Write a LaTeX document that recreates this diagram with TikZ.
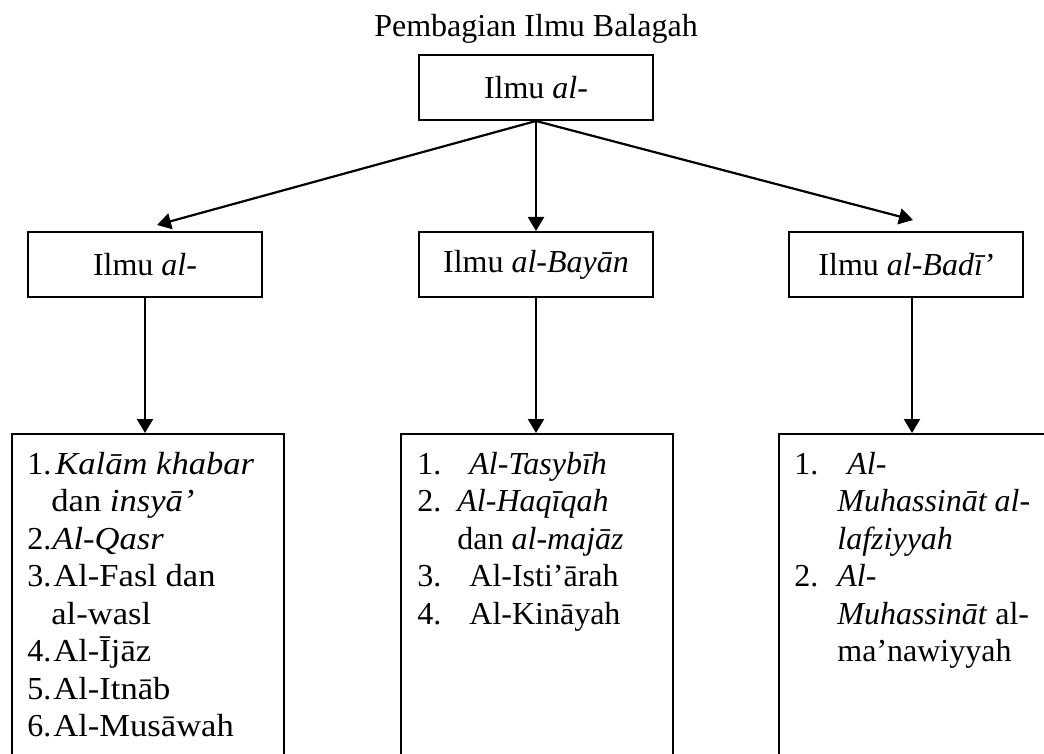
\documentclass[tikz,border=0pt]{standalone}
\usepackage{graphicx}
\usepackage{fontspec}
\setmainfont{Liberation Serif}
\usetikzlibrary{arrows.meta}
\newcommand\lnum[2]{\makebox[#1][l]{#2}}
\newcommand\wide[1]{\scalebox{1.08}[1]{#1}}
\begin{document}
\begin{tikzpicture}[x=0.5pt,y=-0.5pt,
  every node/.style={font=\fontsize{16}{18.75}\selectfont, inner sep=0pt},
  hbox/.style={draw, line width=1pt, minimum width=117pt, minimum height=32.5pt},
  listbox/.style={draw, line width=1pt, minimum width=136pt, minimum height=200pt, anchor=north west},
  listtext/.style={anchor=base west},
  arr/.style={line width=1.1pt, -{Triangle[length=7pt,width=8pt]}}]
\useasboundingbox (0,0) rectangle (1044,754);
\clip (0,0) rectangle (1044,754);
\node[anchor=base] (title) at (536,37) {Pembagian Ilmu Balagah};
\node[hbox] (top) at (536,87.5) {Ilmu \textit{al-}};
\node[hbox] (lmid) at (145,264.5) {Ilmu \textit{al-}};
\node[hbox] (mmid) at (536,264.5) {Ilmu \textit{al-Bayān}};
\node[hbox] (rmid) at (906,264.5) {Ilmu \textit{al-Badī’}};
\node[listbox] (llist) at (11,433) {};
\node[listbox] (mlist) at (400,433) {};
\node[listbox] (rlist) at (778,433) {};
\node[listtext] (ltext) at (27,474) {\begin{tabular}[t]{@{}l@{}}
\lnum{14pt}{1.}\wide{\textit{Kalām khabar}}\\
\lnum{12pt}{}\wide{dan \textit{insyā’}}\\
\lnum{12.5pt}{2.}\wide{\textit{Al-Qasr}}\\
\lnum{13pt}{3.}\wide{Al-Fasl dan}\\
\lnum{12pt}{}\wide{al-wasl}\\
\lnum{13pt}{4.}\wide{Al-Ījāz}\\
\lnum{13pt}{5.}\wide{Al-Itnāb}\\
\lnum{13pt}{6.}\wide{Al-Musāwah}
\end{tabular}};
\node[listtext] (mtext) at (417,474) {\begin{tabular}[t]{@{}l@{}}
\lnum{20pt}{1.}\hspace{6pt}\textit{Al-Tasybīh}\\
\lnum{20pt}{2.}\textit{Al-Haqīqah}\\
\lnum{20pt}{}dan \textit{al-majāz}\\
\lnum{20pt}{3.}\hspace{6pt}Al-Isti’ārah\\
\lnum{20pt}{4.}\hspace{6pt}Al-Kināyah
\end{tabular}};
\node[listtext] (rtext) at (794,474) {\begin{tabular}[t]{@{}l@{}}
\lnum{21.5pt}{1.}\hspace{5pt}\textit{Al-}\\
\lnum{21.5pt}{}\textit{Muhassināt al-}\\
\lnum{21.5pt}{}\textit{lafziyyah}\\
\lnum{21.5pt}{2.}\textit{Al-}\\
\lnum{21.5pt}{}\textit{Muhassināt} al-\\
\lnum{21.5pt}{}ma’nawiyyah
\end{tabular}};
\coordinate (ltip) at (157,225);
\coordinate (rtip) at (913,220);
\draw[arr] (top.south) -- (ltip);
\draw[arr] (top.south) -- (mmid.north);
\draw[arr] (top.south) -- (rtip);
\draw[arr] (lmid.south) -- (lmid.south |- llist.north);
\draw[arr] (mmid.south) -- (mmid.south |- mlist.north);
\draw[arr] ([xshift=3pt]rmid.south) -- ([xshift=3pt]rmid.south |- rlist.north);
\end{tikzpicture}
\end{document}
